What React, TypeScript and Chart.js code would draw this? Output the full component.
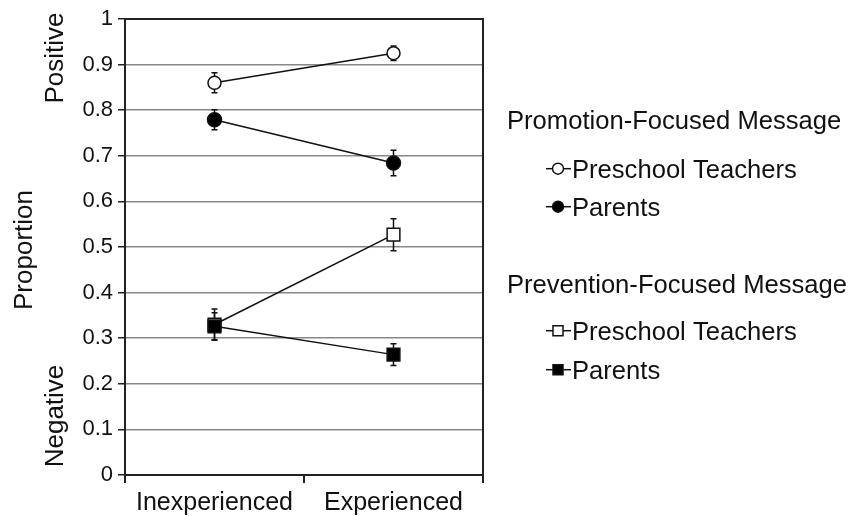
import React, { useEffect, useRef } from "react";
import { Chart, registerables } from "chart.js";

Chart.register(...registerables);

const categories = ["Inexperienced", "Experienced"];
const yTicks = [0, 0.1, 0.2, 0.3, 0.4, 0.5, 0.6, 0.7, 0.8, 0.9, 1];

const promoTeachers = [0.86, 0.925];
const promoTeachersErr = [0.022, 0.016];
const promoParents = [0.779, 0.684];
const promoParentsErr = [0.022, 0.028];
const prevTeachers = [0.33, 0.527];
const prevTeachersErr = [0.034, 0.035];
const prevParents = [0.326, 0.264];
const prevParentsErr = [0.03, 0.024];

const legendGroups = [
  {
    title: "Promotion-Focused Message",
    items: [
      { label: "Preschool Teachers", style: "circle", filled: false },
      { label: "Parents", style: "circle", filled: true },
    ],
  },
  {
    title: "Prevention-Focused Message",
    items: [
      { label: "Preschool Teachers", style: "rect", filled: false },
      { label: "Parents", style: "rect", filled: true },
    ],
  },
];

const FONT = '"Liberation Sans", Arial, sans-serif';
const TEXT = "#111";

export default function App() {
  const ref = useRef<HTMLCanvasElement>(null);

  useEffect(() => {
    document.body.style.margin = "0";
    const canvas = ref.current!;
    const errors = [promoTeachersErr, promoParentsErr, prevParentsErr, prevTeachersErr];

    const errorBars = {
      id: "errorBars",
      beforeDatasetsDraw(chart: any) {
        const ctx = chart.ctx;
        const ys = chart.scales.y;
        ctx.save();
        ctx.strokeStyle = "#111";
        ctx.lineWidth = 1.5;
        chart.data.datasets.forEach((ds: any, i: number) => {
          const meta = chart.getDatasetMeta(i);
          meta.data.forEach((pt: any, j: number) => {
            const v = ds.data[j];
            const e = errors[i][j];
            const x = pt.x;
            const y1 = ys.getPixelForValue(v + e);
            const y2 = ys.getPixelForValue(v - e);
            ctx.beginPath();
            ctx.moveTo(x, y1);
            ctx.lineTo(x, y2);
            ctx.moveTo(x - 3, y1);
            ctx.lineTo(x + 3, y1);
            ctx.moveTo(x - 3, y2);
            ctx.lineTo(x + 3, y2);
            ctx.stroke();
          });
        });
        ctx.restore();
      },
      afterDatasetsDraw(chart: any) {
        const ctx = chart.ctx;
        const a = chart.chartArea;
        ctx.save();
        ctx.strokeStyle = "#222";
        ctx.lineWidth = 2;
        ctx.beginPath();
        ctx.moveTo(a.left, a.top);
        ctx.lineTo(a.right, a.top);
        ctx.lineTo(a.right, a.bottom);
        ctx.stroke();
        ctx.restore();
      },
    };

    const decorations = {
      id: "decorations",
      afterDraw(chart: any) {
        const ctx = chart.ctx;
        ctx.save();
        ctx.fillStyle = TEXT;
        ctx.font = `26px ${FONT}`;
        ctx.textAlign = "center";
        ctx.textBaseline = "middle";
        const rot = (t: string, x: number, y: number) => {
          ctx.save();
          ctx.translate(x, y);
          ctx.rotate(-Math.PI / 2);
          ctx.fillText(t, 0, 0);
          ctx.restore();
        };
        rot("Positive", 56, 58);
        rot("Proportion", 25, 250);
        rot("Negative", 56, 416);

        // legend
        ctx.font = `25.6px ${FONT}`;
        ctx.textAlign = "left";
        ctx.textBaseline = "alphabetic";
        const baselines = [[129, 178, 216], [293, 340, 379]];
        legendGroups.forEach((g, gi) => {
          ctx.fillStyle = TEXT;
          ctx.fillText(g.title, 507, baselines[gi][0]);
          g.items.forEach((it, ii) => {
            const by = baselines[gi][ii + 1];
            const cy = by - 9.3;
            ctx.strokeStyle = "#111";
            ctx.lineWidth = 1.5;
            ctx.beginPath();
            ctx.moveTo(546, cy);
            ctx.lineTo(571, cy);
            ctx.stroke();
            ctx.beginPath();
            if (it.style === "circle") {
              ctx.arc(558, cy, 5.5, 0, Math.PI * 2);
            } else {
              ctx.rect(553, cy - 5, 10, 10);
            }
            ctx.fillStyle = it.filled ? "#000" : "#fff";
            ctx.fill();
            ctx.stroke();
            ctx.fillStyle = TEXT;
            ctx.fillText(it.label, 572, by);
          });
        });
        ctx.restore();
      },
    };

    const mk = (data: number[], style: string, filled: boolean, radius: number) => ({
      data,
      borderColor: "#111",
      borderWidth: 1.5,
      pointStyle: style,
      pointRadius: radius,
      pointBorderWidth: 1.5,
      pointBorderColor: "#111",
      pointBackgroundColor: filled ? "#000" : "#fff",
      fill: false,
      tension: 0,
    });

    const chart = new Chart(canvas, {
      type: "line",
      data: {
        labels: categories,
        datasets: [
          mk(promoTeachers, "circle", false, 6.5),
          mk(promoParents, "circle", true, 7),
          mk(prevParents, "rect", true, 9),
          mk(prevTeachers, "rect", false, 9),
        ] as any,
      },
      options: {
        animation: false,
        responsive: false,
        events: [],
        layout: { padding: { left: 0, right: 372, top: 19, bottom: 0 } },
        plugins: { legend: { display: false }, tooltip: { enabled: false } },
        scales: {
          x: {
            type: "category",
            offset: true,
            grid: { offset: true, drawOnChartArea: false, drawTicks: true, tickLength: 8, tickColor: "#222", lineWidth: 2 },
            border: { display: true, color: "#222", width: 2 },
            ticks: { color: TEXT, font: { family: FONT, size: 25 }, padding: 5, maxRotation: 0 },
            afterFit(s: any) {
              s.height = 46;
            },
          },
          y: {
            min: 0,
            max: 1,
            afterBuildTicks(s: any) {
              s.ticks = yTicks.map((v) => ({ value: v }));
            },
            grid: { color: "#888", lineWidth: 1.5, tickLength: 7, tickColor: "#222" },
            border: { display: true, color: "#222", width: 2 },
            ticks: {
              color: TEXT,
              font: { family: FONT, size: 22 },
              padding: 5,
              callback: (v: any) => String(Number(Number(v).toFixed(1))),
            },
            afterFit(s: any) {
              s.width = 125;
            },
          },
        },
      },
      plugins: [errorBars, decorations],
    });
    return () => chart.destroy();
  }, []);

  return <canvas ref={ref} width={855} height={521} style={{ display: "block" }} />;
}
